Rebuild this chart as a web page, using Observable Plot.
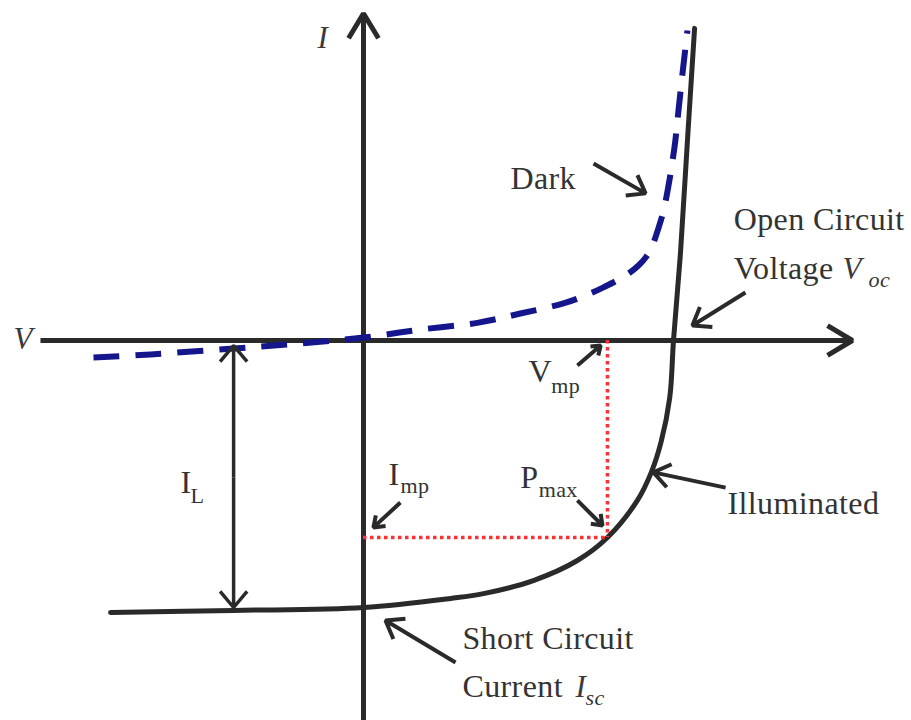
<!DOCTYPE html>
<html>
<head>
<meta charset="utf-8">
<script src="https://cdn.jsdelivr.net/npm/d3@7"></script>
<script src="https://cdn.jsdelivr.net/npm/@observablehq/plot@0.6"></script>
<style>
  html, body { margin: 0; padding: 0; background: #fff; }
  #chart svg { display: block; }
  #chart svg text { letter-spacing: 0.4px; }
</style>
</head>
<body>
<div id="chart"></div>
<script>
// Normalised units: V / Voc (x), I / Isc (y)
const darkV = [-0.871,-0.687,-0.419,-0.203,0,0.184,0.371,0.506,0.645,0.723,0.774,0.845,0.887,0.913,0.932,0.952,0.968,0.984,0.997,1.006,1.016,1.029,1.045];
const darkI = [-0.064,-0.052,-0.030,-0.011,0.011,0.041,0.067,0.101,0.139,0.172,0.199,0.243,0.281,0.315,0.356,0.423,0.487,0.581,0.674,0.749,0.861,1.0,1.161];

const illumV = [-0.816,-0.419,0,0.281,0.387,0.548,0.690,0.787,0.884,0.929,0.960,0.988,1.0,1.023,1.045,1.068];
const illumI = [-1.019,-1.011,-1.0,-0.966,-0.948,-0.899,-0.824,-0.738,-0.598,-0.492,-0.380,-0.213,0,0.337,0.749,1.169];

const pmaxV = [0.787];
const pmaxI = [-0.738];

// axes extents
const axisVx = [-1.042, 1.577];
const axisIy = [-1.423, 1.225];

// I_L double arrow
const ilV = [-0.419];
const ilI = [-0.019, -0.512, -1.0];

// annotation arrows (start -> tip)
const annoV1 = [0.742, 1.232, 0.690, 0.690, 1.168, 0.119, 0.297];
const annoI1 = [0.663, 0.180, -0.094, -0.599, -0.551, -0.607, -1.206];
const annoV2 = [0.910, 1.061, 0.765, 0.771, 0.935, 0.032, 0.071];
const annoI2 = [0.551, 0.056, -0.019, -0.693, -0.494, -0.700, -1.049];

// labels
const labelText = ["Dark","Open Circuit","Voltage","Illuminated","Short Circuit","Current","V","P","I","I"];
const labelV    = [0.474, 1.194, 1.194, 1.174, 0.319, 0.319, 0.532, 0.506, -0.590, 0.081];
const labelI    = [0.569, 0.412, 0.232, -0.648, -1.154, -1.337, -0.157, -0.551, -0.573, -0.543];

const subText = ["mp","max","L","mp"];
const subV    = [0.606, 0.565, -0.558, 0.119];
const subI    = [-0.195, -0.588, -0.607, -0.573];

const italText = ["V","I","I","V"];
const italV    = [1.545, 0.684, -0.148, -1.129];
const italI    = [0.232, -1.337, 1.094, -0.030];

const italSubText = ["oc","sc"];
const italSubV    = [1.629, 0.716];
const italSubI    = [0.199, -1.367];

// build tables
const dark = darkV.map((v, i) => ({V: v, I: darkI[i]}));
const illum = illumV.map((v, i) => ({V: v, I: illumI[i]}));
const pmax = pmaxV.map((v, i) => ({V: v, I: pmaxI[i]}));
const anno = annoV1.map((v, i) => ({x1: v, y1: annoI1[i], x2: annoV2[i], y2: annoI2[i]}));
const ilArrows = [{x: ilV[0], y1: ilI[1], y2: ilI[0]}, {x: ilV[0], y1: ilI[1], y2: ilI[2]}];
const tbl = (t, xs, ys) => t.map((s, i) => ({t: s, x: xs[i], y: ys[i]}));
const labels = tbl(labelText, labelV, labelI);
const subs = tbl(subText, subV, subI);
const itals = tbl(italText, italV, italI);
const italSubs = tbl(italSubText, italSubV, italSubI);

const ink = "#2a2a2a";
const textInk = "#333333";
const serif = "Liberation Serif, Times New Roman, serif";

const chart = Plot.plot({
  width: 911,
  height: 720,
  margin: 0,
  style: {background: "#ffffff", fontFamily: serif},
  x: {domain: [-363/310, 548/310], axis: null},
  y: {domain: [-380/267, 340/267], axis: null},
  marks: [
    // axes
    Plot.arrow([{x1: axisVx[0], x2: axisVx[1], y: 0}], {x1: "x1", x2: "x2", y1: "y", y2: "y", stroke: ink, strokeWidth: 5, headLength: 8.7, headAngle: 62, strokeLinecap: "butt", strokeLinejoin: "miter"}),
    Plot.arrow([{y1: axisIy[0], y2: axisIy[1], x: 0}], {x1: "x", x2: "x", y1: "y1", y2: "y2", stroke: ink, strokeWidth: 5, headLength: 8.7, headAngle: 62, strokeLinecap: "butt", strokeLinejoin: "miter"}),
    // dark curve
    Plot.line(dark, {x: "V", y: "I", curve: "catmull-rom", stroke: "#16168c", strokeWidth: 6, strokeDasharray: "26,16", strokeLinecap: "butt"}),
    // illuminated curve
    Plot.line(illum, {x: "V", y: "I", curve: "catmull-rom", stroke: ink, strokeWidth: 5}),
    // max power rectangle sides
    Plot.ruleX(pmax, {x: "V", y1: 0, y2: "I", stroke: "#ff3030", strokeWidth: 3.5, strokeDasharray: "3.5,3.5"}),
    Plot.ruleY(pmax, {y: "I", x1: 0, x2: "V", stroke: "#ff3030", strokeWidth: 3.5, strokeDasharray: "3.5,3.5"}),
    // I_L double arrow
    Plot.arrow(ilArrows, {x1: "x", x2: "x", y1: "y1", y2: "y2", stroke: ink, strokeWidth: 3.5, headLength: 9, headAngle: 80, strokeLinecap: "butt"}),
    // annotation arrows
    Plot.arrow(anno, {x1: "x1", y1: "y1", x2: "x2", y2: "y2", stroke: ink, strokeWidth: 4, headLength: 7.5, headAngle: 72, strokeLinecap: "butt"}),
    // text
    Plot.text(labels, {x: "x", y: "y", text: "t", textAnchor: "start", lineAnchor: "bottom", fontSize: 32, fill: textInk}),
    Plot.text(subs, {x: "x", y: "y", text: "t", textAnchor: "start", lineAnchor: "bottom", fontSize: 22, fill: textInk}),
    Plot.text(itals, {x: "x", y: "y", text: "t", textAnchor: "start", lineAnchor: "bottom", fontSize: 31, fontStyle: "italic", fill: "#3a3a3a"}),
    Plot.text(italSubs, {x: "x", y: "y", text: "t", textAnchor: "start", lineAnchor: "bottom", fontSize: 22, fontStyle: "italic", fill: textInk})
  ]
});
document.getElementById("chart").appendChild(chart);
</script>
</body>
</html>
